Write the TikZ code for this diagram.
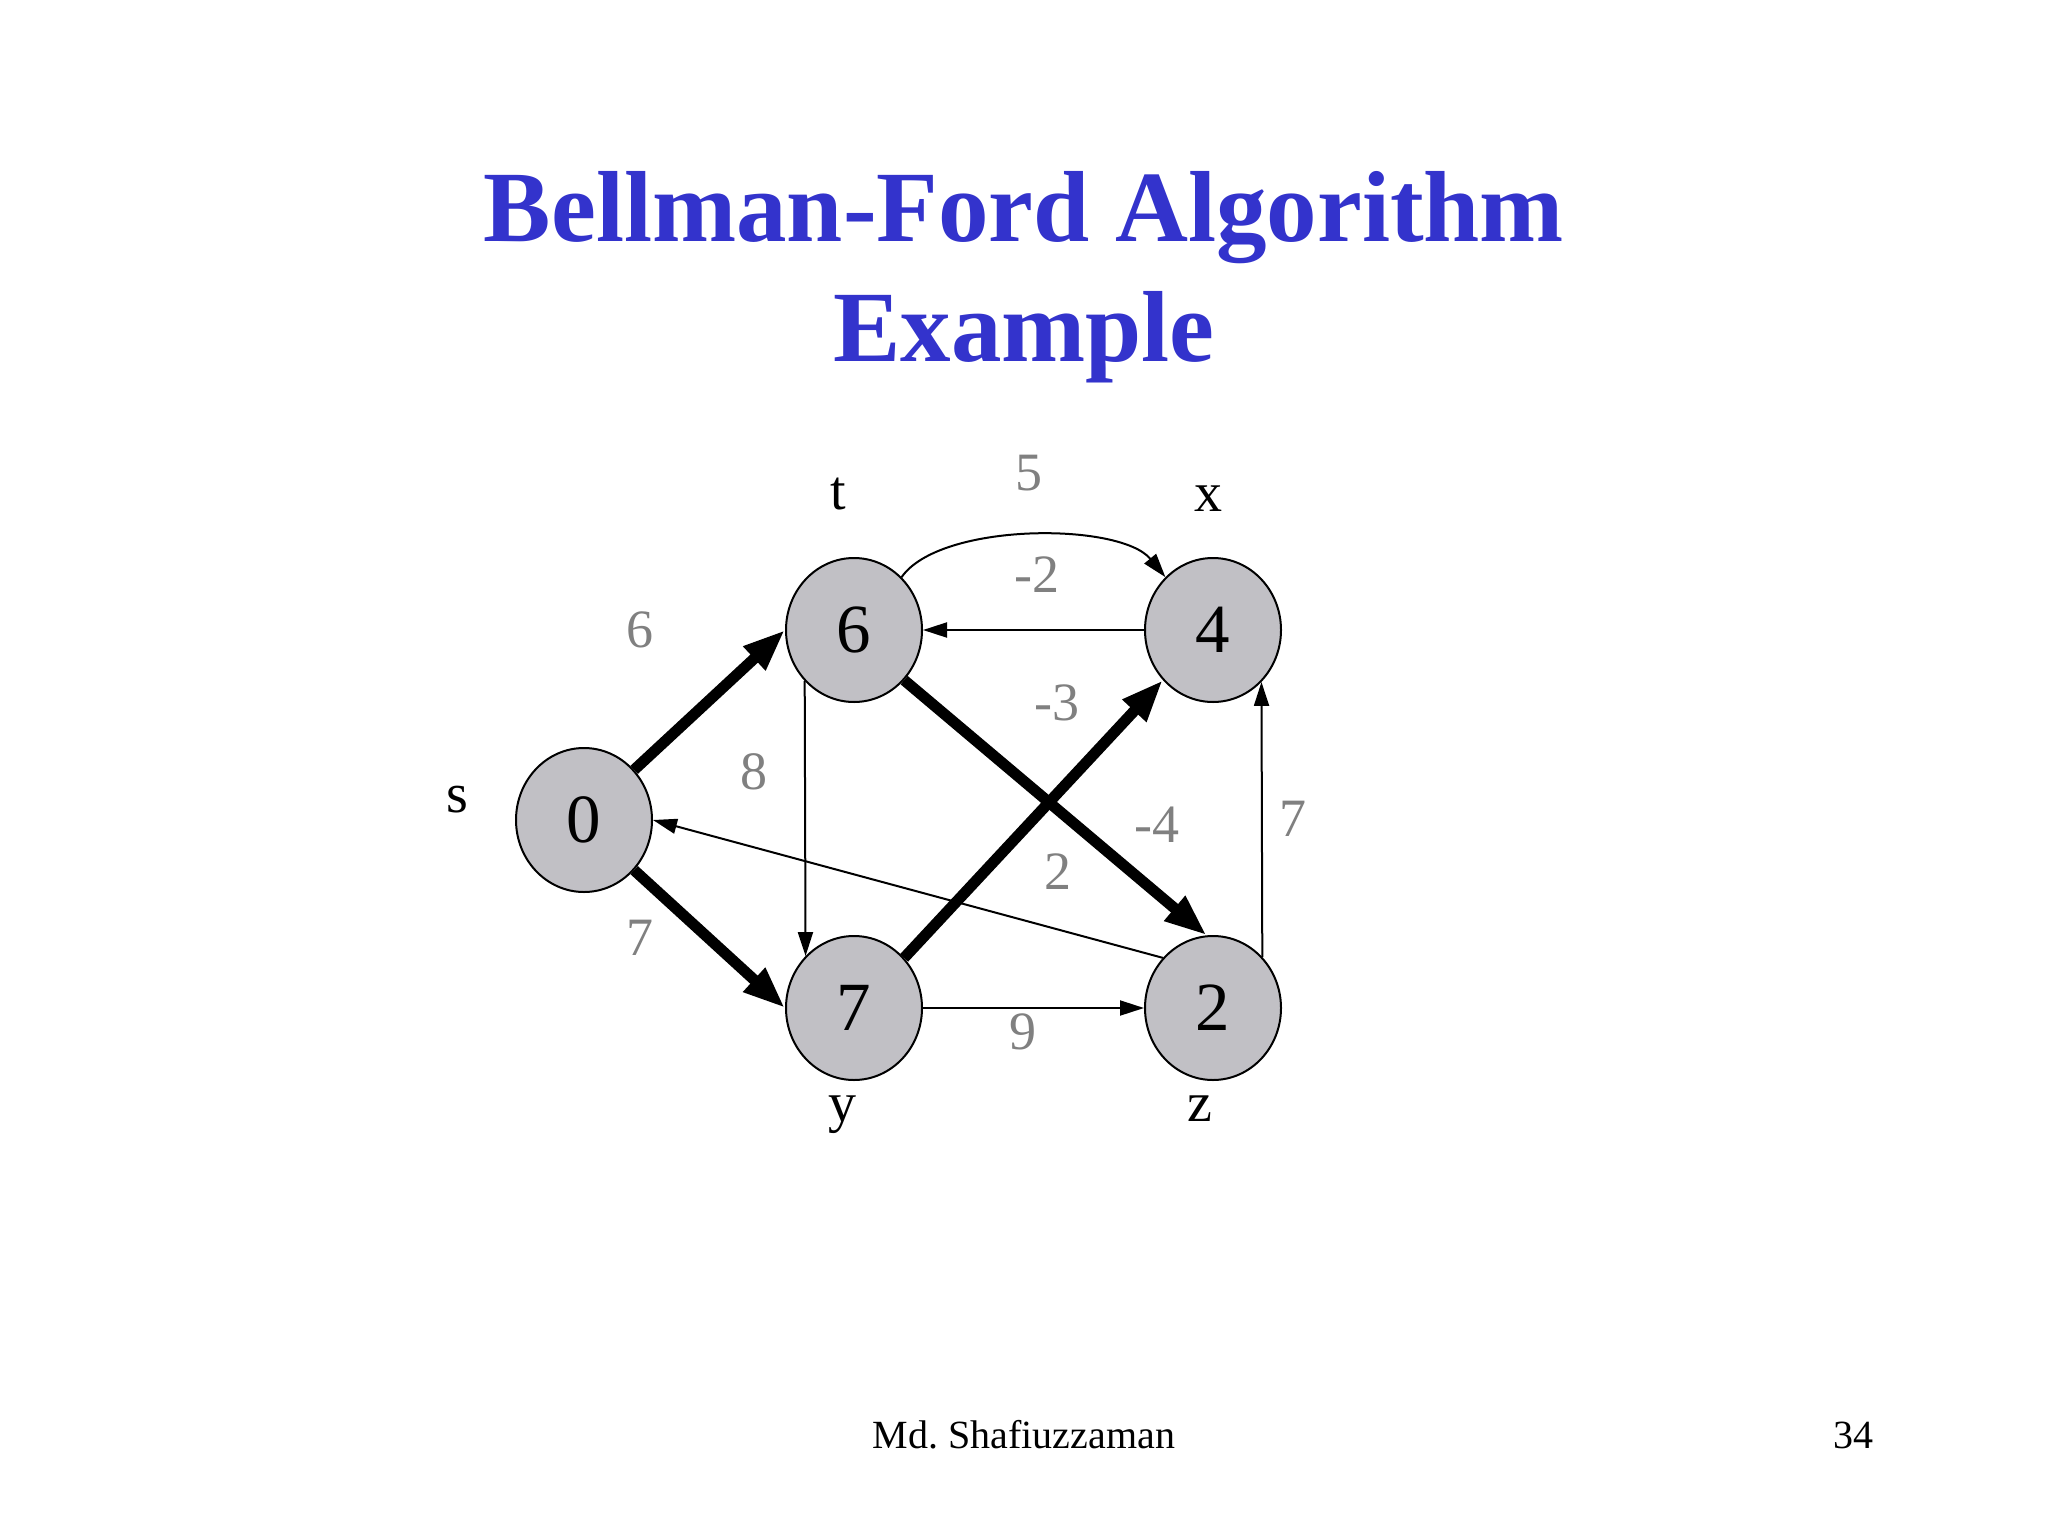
\documentclass[tikz,border=0pt]{standalone}
\usepackage{fontspec}
\setmainfont{Liberation Serif}
\usetikzlibrary{arrows.meta,shapes.geometric}
\definecolor{titleblue}{RGB}{51,51,204}
\definecolor{nodegray}{RGB}{193,192,197}
\definecolor{wgray}{RGB}{128,128,128}
\begin{document}
\begin{tikzpicture}[x=1pt,y=-1pt,
  vtx/.style={ellipse,draw=black,line width=2pt,fill=nodegray,minimum width=136pt,minimum height=144pt,inner sep=0pt,font=\fontsize{69}{69}\selectfont},
  lbl/.style={anchor=base,inner sep=0pt,font=\fontsize{56}{56}\selectfont},
  wt/.style={inner sep=0pt,text=wgray,font=\fontsize{54}{54}\selectfont},
  lightedge/.style={line width=2pt,-{Triangle[length=24pt,width=15pt]}},
  heavyedge/.style={line width=11pt,-{Triangle[length=42pt,width=30pt]}},
  ttl/.style={anchor=base,inner sep=0pt,text=titleblue,font=\fontsize{101}{101}\selectfont\bfseries},
  foot/.style={anchor=base,inner sep=0pt,font=\fontsize{40}{40}\selectfont}]
\useasboundingbox[fill=white] (0,0) rectangle (2048,1536);
% title
\node[ttl] (title1) at (1024,241) {Bellman-Ford Algorithm};
\node[ttl] (title2) at (1024,361) {Example};
% vertices
\node[vtx] (ns) at (584,820) {0};
\node[vtx] (nt) at (854,630) {6};
\node[vtx] (nx) at (1213,630) {4};
\node[vtx] (ny) at (854,1008) {7};
\node[vtx] (nz) at (1213,1008) {2};
% vertex names
\node[lbl] (ls) at (457,812) {s};
\node[lbl] (lt) at (838,509) {t};
\node[lbl] (lx) at (1208,511) {x};
\node[lbl] (ly) at (842,1121) {y};
\node[lbl] (lz) at (1200,1121) {z};
% edges
\draw[heavyedge] (ns.45) -- (nt.west);
\draw[heavyedge] (ns.-45) -- (ny.west);
\draw[heavyedge] (nt.-45) -- (nz.95);
\draw[heavyedge] (ny.45) -- (nx.225);
\draw[lightedge] (nx.west) -- (nt.east);
\draw[lightedge] (ny.east) -- (nz.west);
\draw[lightedge] (nt.226.7) -- (ny.133.3);
\draw[lightedge] (nz.46.7) -- (nx.313.3);
\draw[lightedge] (nz.135) -- (ns.east);
\draw[lightedge] (nt.48) .. controls (940,522) and (1120,522) .. (nx.132);
% weights
\node[wt] (w1) at (640,630) {6};
\node[wt] (w2) at (1029,473) {5};
\node[wt] (w3) at (1037,575) {-2};
\node[wt] (w4) at (1057,703) {-3};
\node[wt] (w5) at (754,772) {8};
\node[wt] (w6) at (640,938) {7};
\node[wt] (w7) at (1157,825) {-4};
\node[wt] (w8) at (1058,872) {2};
\node[wt] (w9) at (1293,819) {7};
\node[wt] (w10) at (1023,1032) {9};
% footer
\node[foot] (author) at (1024,1448) {Md.\ Shafiuzzaman};
\node[foot] (page) at (1853,1448) {34};
\end{tikzpicture}
\end{document}
